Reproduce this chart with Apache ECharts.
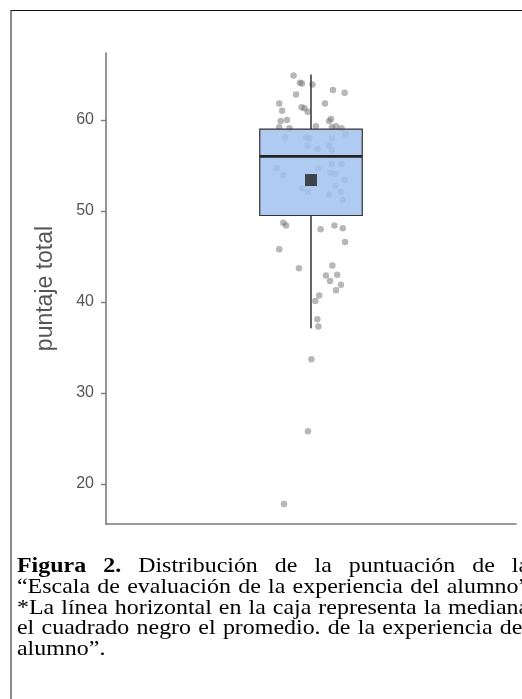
<!DOCTYPE html>
<html>
<head>
<meta charset="utf-8">
<script src="https://cdn.jsdelivr.net/npm/echarts@6/dist/echarts.min.js"></script>
<style>
  html, body { margin: 0; padding: 0; width: 522px; height: 699px; overflow: hidden; background: #fff; }
  #chart { position: absolute; left: 0; top: 0; width: 522px; height: 699px; }
  #frame { position: absolute; left: 10px; top: 10px; width: 520px; height: 700px;
           border-top: 1.5px solid #111; border-left: 2px solid #8a8a8a; pointer-events: none; }
  #caption { position: absolute; left: 17px; top: 555px; width: 434px;
             transform: scaleX(1.18); transform-origin: 0 0;
             font-family: "Liberation Serif", "Times New Roman", serif; font-size: 20.3px;
             line-height: 20.8px; color: #000; white-space: nowrap; }
  #caption .j { text-align: justify; text-align-last: justify; }
  #caption .l { text-align: left; }
</style>
</head>
<body>
<div id="chart"></div>
<div id="frame"></div>
<div id="caption">
  <div class="j"><b>Figura 2.</b> Distribución de la puntuación de la</div>
  <div class="j">“Escala de evaluación de la experiencia del alumno”</div>
  <div class="j">*La línea horizontal en la caja representa la mediana</div>
  <div class="j">el cuadrado negro el promedio. de la experiencia del</div>
  <div class="l">alumno”.</div>
</div>
<script>
// ---- data ----
const yTicks = [20, 30, 40, 50, 60];
const yTitle = 'puntaje total';
// boxplot stats: [lower whisker, Q1, median, Q3, upper whisker]
const boxStats = [37.1, 49.5, 56.0, 59.0, 65.0];
const meanScore = 53.4;
// jittered individual scores (horizontal jitter offset, score)
const jitterX = [-0.085, -0.054, -0.044, 0.007, 0.107, 0.164, -0.073, -0.155, 0.068, -0.046,
                 -0.032, -0.141, -0.016, -0.117, -0.148, 0.088, 0.098, -0.155, -0.105, 0.024,
                 0.102, 0.122, 0.149, -0.127, -0.024, -0.008, 0.102, 0.168, -0.017, 0.032,
                 0.088, 0.101, -0.167, -0.135, 0.034, 0.102, 0.149, 0.095, 0.119, 0.163,
                 0.119, -0.015, 0.088, 0.146, 0.154, -0.042, -0.135, -0.122, 0.047, 0.114,
                 0.155, 0.166, -0.155, -0.059, 0.104, 0.128, 0.073, 0.093, 0.146, 0.122,
                 0.040, 0.021, 0.031, 0.036, 0.002, -0.015, -0.132];
const scores  = [64.9, 64.1, 64.0, 63.9, 63.3, 63.0, 62.8, 61.8, 61.8, 61.4,
                 61.3, 61.0, 60.9, 60.0, 59.9, 59.9, 60.1, 59.2, 59.1, 59.3,
                 59.2, 59.3, 59.1, 58.1, 58.1, 58.0, 58.0, 58.4, 57.2, 56.8,
                 57.2, 56.7, 54.7, 53.9, 54.7, 55.2, 55.2, 54.2, 54.1, 53.4,
                 52.8, 52.1, 51.8, 52.1, 51.2, 52.5, 48.7, 48.4, 48.0, 48.4,
                 48.1, 46.6, 45.8, 43.7, 44.0, 43.0, 42.9, 42.3, 41.9, 41.3,
                 40.7, 40.1, 38.1, 37.3, 33.7, 25.8, 17.8];

const points = jitterX.map((x, i) => [x, scores[i]]);
const boxHalf = 0.25;

const chart = echarts.init(document.getElementById('chart'), null, { renderer: 'canvas' });
chart.setOption({
  backgroundColor: '#fff',
  animation: false,
  grid: { left: 106, right: 6, top: 53, bottom: 175, containLabel: false },
  xAxis: {
    type: 'value', min: -1, max: 1,
    axisLine: { show: true, onZero: false, lineStyle: { color: '#7a7a7a', width: 1.6 } },
    axisTick: { show: false }, axisLabel: { show: false }, splitLine: { show: false }
  },
  yAxis: {
    type: 'value', min: 15.6, max: 67.36,
    name: yTitle, nameLocation: 'middle', nameGap: 49, nameRotate: 90,
    nameTextStyle: { fontFamily: 'Liberation Sans, Arial, sans-serif', fontSize: 23, color: '#555' },
    axisLine: { show: true, onZero: false, lineStyle: { color: '#7a7a7a', width: 1.6 } },
    axisTick: { show: true, length: 5, lineStyle: { color: '#7a7a7a', width: 1.4 }, customValues: yTicks },
    axisLabel: { customValues: yTicks, fontFamily: 'Liberation Sans, Arial, sans-serif', fontSize: 16, color: '#555', margin: 12 },
    splitLine: { show: false }
  },
  series: [
    {
      type: 'scatter', data: points, symbol: 'circle', symbolSize: 6.5, z: 1,
      itemStyle: { color: 'rgba(110,110,110,0.62)' }, silent: true
    },
    {
      type: 'custom', z: 2, silent: true,
      data: [[0].concat(boxStats)],
      renderItem: function (params, api) {
        const lo = api.value(1), q1 = api.value(2), med = api.value(3), q3 = api.value(4), hi = api.value(5);
        const pL = api.coord([-boxHalf, q3]);
        const pR = api.coord([boxHalf, q1]);
        const cTop = api.coord([0, hi]);
        const cQ3 = api.coord([0, q3]);
        const cQ1 = api.coord([0, q1]);
        const cLo = api.coord([0, lo]);
        const mL = api.coord([-boxHalf, med]);
        const mR = api.coord([boxHalf, med]);
        const lineStyle = { stroke: '#333', lineWidth: 1.5 };
        return {
          type: 'group',
          children: [
            { type: 'line', shape: { x1: cTop[0], y1: cTop[1], x2: cQ3[0], y2: cQ3[1] }, style: lineStyle },
            { type: 'line', shape: { x1: cQ1[0], y1: cQ1[1], x2: cLo[0], y2: cLo[1] }, style: lineStyle },
            { type: 'rect', shape: { x: pL[0], y: pL[1], width: pR[0] - pL[0], height: pR[1] - pL[1] },
              style: { fill: 'rgba(161,194,240,0.85)', stroke: '#333', lineWidth: 1.2 } },
            { type: 'line', shape: { x1: mL[0], y1: mL[1], x2: mR[0], y2: mR[1] }, style: { stroke: '#222', lineWidth: 2.6 } }
          ]
        };
      }
    },
    {
      type: 'scatter', z: 3, data: [[0, meanScore]], symbol: 'rect', symbolSize: 12,
      itemStyle: { color: '#222' }, silent: true
    }
  ]
});
</script>
</body>
</html>
